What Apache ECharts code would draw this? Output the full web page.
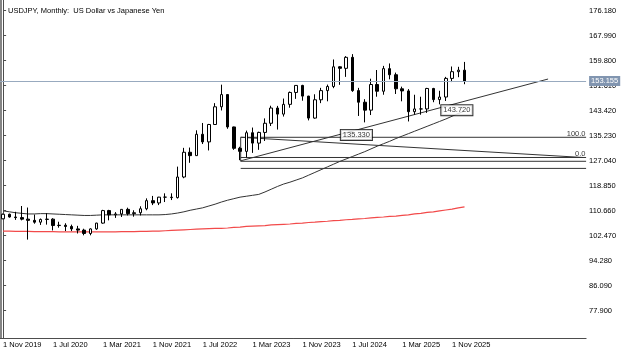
<!DOCTYPE html>
<html>
<head>
<meta charset="utf-8">
<script src="https://cdn.jsdelivr.net/npm/echarts@6/dist/echarts.min.js"></script>
<style>
  html, body { margin: 0; padding: 0; background: #fff; }
  #chart { width: 627px; height: 353px; }
</style>
</head>
<body>
<div id="chart"></div>
<script>
// USDJPY monthly bars, Nov 2019 .. Jan 2026
const months = [
  '1 Nov 2019', '1 Dec 2019',
  '1 Jan 2020', '1 Feb 2020', '1 Mar 2020', '1 Apr 2020', '1 May 2020', '1 Jun 2020', '1 Jul 2020', '1 Aug 2020', '1 Sep 2020', '1 Oct 2020', '1 Nov 2020', '1 Dec 2020',
  '1 Jan 2021', '1 Feb 2021', '1 Mar 2021', '1 Apr 2021', '1 May 2021', '1 Jun 2021', '1 Jul 2021', '1 Aug 2021', '1 Sep 2021', '1 Oct 2021', '1 Nov 2021', '1 Dec 2021',
  '1 Jan 2022', '1 Feb 2022', '1 Mar 2022', '1 Apr 2022', '1 May 2022', '1 Jun 2022', '1 Jul 2022', '1 Aug 2022', '1 Sep 2022', '1 Oct 2022', '1 Nov 2022', '1 Dec 2022',
  '1 Jan 2023', '1 Feb 2023', '1 Mar 2023', '1 Apr 2023', '1 May 2023', '1 Jun 2023', '1 Jul 2023', '1 Aug 2023', '1 Sep 2023', '1 Oct 2023', '1 Nov 2023', '1 Dec 2023',
  '1 Jan 2024', '1 Feb 2024', '1 Mar 2024', '1 Apr 2024', '1 May 2024', '1 Jun 2024', '1 Jul 2024', '1 Aug 2024', '1 Sep 2024', '1 Oct 2024', '1 Nov 2024', '1 Dec 2024',
  '1 Jan 2025', '1 Feb 2025', '1 Mar 2025', '1 Apr 2025', '1 May 2025', '1 Jun 2025', '1 Jul 2025', '1 Aug 2025', '1 Sep 2025', '1 Oct 2025', '1 Nov 2025', '1 Dec 2025',
  '1 Jan 2026'
];

const opens = [
  108.0, 109.5,
  108.6, 108.4, 107.9, 107.5, 106.9, 107.8, 107.9, 105.8, 105.9, 105.5, 104.7, 104.3,
  103.2, 104.7, 106.6, 110.7, 109.3, 109.6, 111.1, 109.7, 110.0, 111.3, 113.95, 113.2,
  115.1, 115.1, 114.95, 121.7, 129.8, 128.7, 135.7, 133.2, 138.9, 144.7, 148.7, 138.1,
  131.1, 130.1, 136.2, 132.8, 136.3, 139.3, 144.3, 142.3, 145.5, 149.4, 151.7, 148.2,
  141.0, 147.0, 150.0, 151.35, 157.8, 157.3, 160.9, 150.0, 146.2, 143.6, 152.0, 149.8,
  157.2, 155.2, 150.6, 149.9, 143.1, 144.0, 144.0, 150.7, 147.05, 147.9, 154.0, 156.2,
  156.7
];
const highs = [
  109.7, 109.7,
  110.3, 112.2, 111.7, 109.4, 108.1, 109.85, 108.2, 107.05, 106.55, 106.1, 105.7, 104.75,
  104.9, 106.7, 110.95, 110.95, 110.2, 111.1, 111.65, 110.8, 112.1, 114.7, 115.5, 115.2,
  116.35, 116.35, 125.1, 131.25, 131.35, 137.0, 139.4, 139.1, 145.9, 151.95, 148.8, 138.2,
  131.6, 136.9, 137.9, 136.55, 140.9, 145.05, 145.0, 147.4, 149.7, 151.7, 151.9, 148.3,
  148.8, 150.9, 151.97, 160.2, 157.99, 161.3, 161.95, 150.9, 147.2, 153.9, 156.75, 158.1,
  158.9, 155.9, 151.3, 150.5, 148.65, 148.0, 150.9, 150.9, 149.95, 154.5, 157.9, 157.8,
  159.4
];
const lows = [
  107.9, 108.4,
  107.65, 107.5, 101.2, 106.4, 106.0, 106.1, 104.2, 105.1, 104.0, 104.0, 103.2, 102.6,
  102.6, 104.4, 106.4, 107.5, 108.3, 108.6, 109.1, 108.7, 109.1, 110.8, 112.5, 112.5,
  113.5, 114.15, 114.65, 121.3, 126.35, 128.65, 132.5, 130.4, 138.8, 143.5, 137.5, 130.6,
  127.2, 128.1, 129.6, 130.6, 133.5, 138.4, 137.25, 141.5, 144.4, 147.3, 146.7, 140.25,
  140.8, 145.9, 146.5, 150.8, 151.9, 154.5, 149.6, 141.7, 139.6, 142.0, 148.0, 148.65,
  153.7, 148.9, 146.5, 139.9, 142.1, 142.1, 142.7, 146.2, 145.5, 146.6, 152.8, 154.4,
  152.1
];
const closes = [
  109.5, 108.6,
  108.4, 107.9, 107.5, 106.9, 107.8, 107.9, 105.8, 105.9, 105.5, 104.7, 104.3, 103.2,
  104.7, 106.6, 110.7, 109.3, 109.6, 111.1, 109.7, 110.0, 111.3, 113.95, 113.2, 115.1,
  115.1, 114.95, 121.7, 129.8, 128.7, 135.7, 133.2, 138.9, 144.7, 148.7, 138.1, 131.1,
  130.1, 136.2, 132.8, 136.3, 139.3, 144.3, 142.3, 145.5, 149.4, 151.7, 148.2, 141.0,
  147.0, 150.0, 151.35, 157.8, 157.3, 160.9, 150.0, 146.2, 143.6, 152.0, 149.8, 157.2,
  155.2, 150.6, 149.9, 143.1, 144.0, 144.0, 150.7, 147.05, 147.9, 154.0, 156.2, 156.7,
  153.155
];

// moving averages (black = 50, red = 200)
const ma50 = [
  110.6, 110.3, 110.0, 109.8, 109.6, 109.6, 109.7, 109.7, 109.6, 109.5,
  109.4, 109.3, 109.2, 109.1, 109.1, 109.2, 109.3, 109.3, 109.3, 109.3,
  109.3, 109.3, 109.3, 109.3, 109.3, 109.3, 109.4, 109.6, 109.9, 110.3,
  110.8, 111.2, 111.6, 112.2, 112.8, 113.5, 114.1, 114.6, 115.1, 115.4,
  115.7, 116.0, 116.8, 117.7, 118.6, 119.4, 120.0, 120.7, 121.4, 122.3,
  123.2, 124.1, 125.0, 125.9, 126.8, 127.6, 128.4, 129.2, 130.0, 130.9,
  131.8, 132.6, 133.4, 134.3, 135.1, 135.9, 136.7, 137.5, 138.3, 139.1,
  139.9, 140.7, 141.6, 142.5, 143.3
];
const ma200 = [
  104.0, 104.0, 103.9, 103.9, 103.9, 103.8, 103.8, 103.8, 103.8, 103.7,
  103.7, 103.7, 103.7, 103.7, 103.7, 103.7, 103.7, 103.7, 103.7, 103.8,
  103.8, 103.8, 103.9, 103.9, 104.0, 104.0, 104.1, 104.2, 104.3, 104.4,
  104.5, 104.6, 104.7, 104.8, 104.85, 104.9, 105.0, 105.2, 105.3, 105.5,
  105.6, 105.7, 105.8, 106.0, 106.1, 106.2, 106.3, 106.5, 106.6, 106.8,
  106.9, 107.1, 107.2, 107.4, 107.5, 107.7, 107.8, 108.0, 108.1, 108.3,
  108.5, 108.6, 108.8, 108.9, 109.1, 109.3, 109.6, 109.8, 110.1, 110.3,
  110.6, 110.9, 111.2, 111.6, 111.9
];

const priceTicks = [77.9, 86.09, 94.28, 102.47, 110.66, 118.85, 127.04, 135.23, 143.42, 151.61, 159.8, 167.99, 176.18];
const lastPrice = 153.155;

// drawn objects, [bar index, price]
const trendLine = [[38.1, 127.0], [87.4, 153.8]];
const fibDiagonal = [[38.1, 134.71], [93.0, 128.09]];
const fibLevels = [134.71, 128.09];
const fibNames = ['100.0', '0.0'];
const extraLevels = [126.85, 124.52];
const priceTags = [[56.66, 135.5, '135.330'], [72.77, 143.6, '143.720']];

const FONT = 'Liberation Sans';
const FS = 7.5;
const slots = 94;
const cats = months.concat(Array(slots - months.length).fill(''));
const leftX = 38.1, rightX = slots - 0.5;
const showLabel = (i, v) => i % 8 === 0 && v !== '';

const chart = echarts.init(document.getElementById('chart'));

function seg(points) {
  return {
    type: 'line', xAxisIndex: 1, data: points, symbol: 'none', silent: true,
    lineStyle: { color: '#333', width: 1 }, z: 3, animation: false
  };
}

const series = [
  {
    type: 'candlestick',
    data: opens.map((o, i) => [o, closes[i], lows[i], highs[i]]),
    barWidth: 3,
    itemStyle: {
      color: '#fff', color0: '#000',
      borderColor: '#000', borderColor0: '#000', borderColorDoji: '#000',
      borderWidth: 1
    },
    z: 4,
    markLine: {
      symbol: 'none', silent: true, animation: false,
      data: [{ yAxis: lastPrice }],
      lineStyle: { color: '#98aabf', type: 'solid', width: 1 },
      label: {
        position: 'end', distance: 3, formatter: lastPrice.toFixed(3),
        backgroundColor: '#8195b0', color: '#fff', padding: [1, 2],
        fontSize: FS, fontFamily: FONT
      }
    }
  },
  {
    type: 'line', data: ma50, symbol: 'none', silent: true, z: 3,
    lineStyle: { color: '#333', width: 1 }
  },
  {
    type: 'line', data: ma200, symbol: 'none', silent: true, z: 3,
    lineStyle: { color: '#f24a4a', width: 1.2 }
  },
  seg(trendLine),
  seg(fibDiagonal),
  seg([[leftX, fibLevels[0]], [leftX, extraLevels[0]]])
];
fibLevels.concat(extraLevels).forEach(p => series.push(seg([[leftX, p], [rightX, p]])));

series.push({
  type: 'scatter', xAxisIndex: 1, symbolSize: 1, silent: true, z: 6,
  itemStyle: { color: 'transparent' },
  data: priceTags.map(t => ({
    value: [t[0], t[1]],
    label: {
      show: true, position: 'inside', formatter: t[2], color: '#000',
      backgroundColor: '#fff', borderColor: '#000', borderWidth: 1,
      padding: [1, 2], fontSize: FS, fontFamily: FONT
    }
  })).concat(fibLevels.map((p, k) => ({
    value: [rightX - 0.1, p],
    label: {
      show: true, position: 'top', align: 'right', distance: -1,
      formatter: fibNames[k], color: '#000', fontSize: FS, fontFamily: FONT
    }
  })))
});

chart.setOption({
  animation: false,
  backgroundColor: '#fff',
  title: {
    text: 'USDJPY, Monthly:  US Dollar vs Japanese Yen',
    left: 3, top: 2,
    textStyle: { fontSize: FS, fontWeight: 'normal', color: '#000', fontFamily: FONT }
  },
  grid: { left: -1.4, right: 40.9, top: 0, bottom: 15 },
  xAxis: [
    {
      type: 'category', data: cats, boundaryGap: true,
      axisLine: { lineStyle: { color: '#4d4d4d' } },
      axisTick: {
        alignWithLabel: true, length: 3, interval: showLabel,
        lineStyle: { color: '#4d4d4d' }
      },
      axisLabel: {
        interval: showLabel,
        align: 'left', margin: 3, fontSize: FS, color: '#000', fontFamily: FONT
      },
      splitLine: { show: false }
    },
    { type: 'value', min: -0.5, max: slots - 0.5, show: false }
  ],
  yAxis: {
    type: 'value', position: 'right', min: 68.96, max: 179.685,
    axisLine: { show: true, lineStyle: { color: '#4d4d4d' } },
    axisTick: { show: true, length: 3, customValues: priceTicks, lineStyle: { color: '#4d4d4d' } },
    axisLabel: {
      customValues: priceTicks, formatter: v => v.toFixed(3),
      margin: 3, fontSize: FS, color: '#000', fontFamily: FONT
    },
    splitLine: { show: false }
  },
  graphic: [
    { type: 'rect', shape: { x: 0, y: 0, width: 2, height: 338 }, style: { fill: '#858585' }, silent: true }
  ],
  series: series
});
</script>
</body>
</html>
